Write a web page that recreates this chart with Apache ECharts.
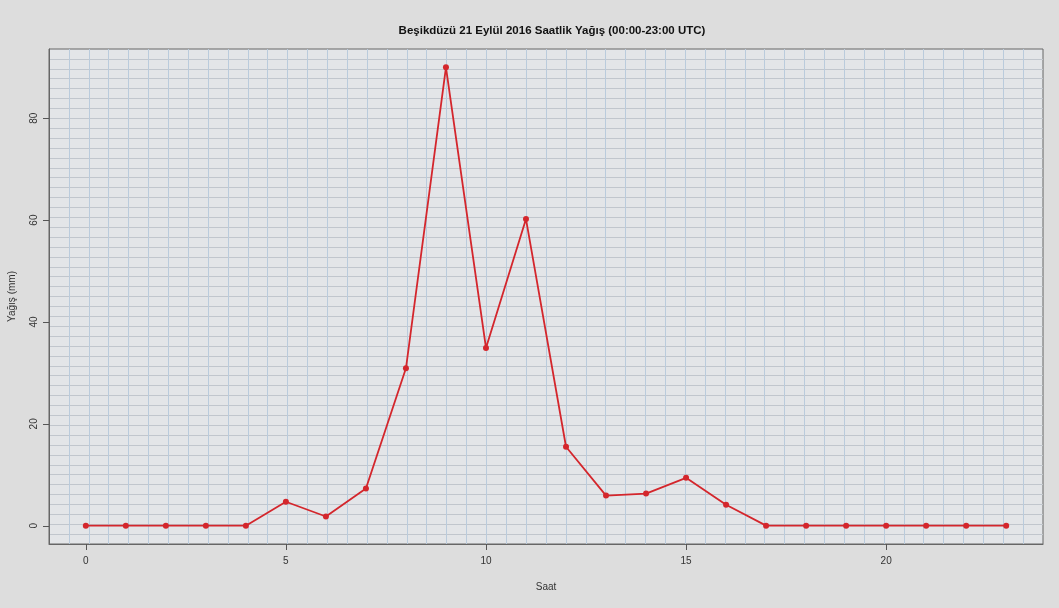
<!DOCTYPE html>
<html>
<head>
<meta charset="utf-8">
<script src="https://cdn.jsdelivr.net/npm/echarts@6/dist/echarts.min.js"></script>
<style>
html,body{margin:0;padding:0;background:#dddddd;}
#c{width:1059px;height:608px;}
</style>
</head>
<body>
<div id="c"></div>
<script>
const hours = [0,1,2,3,4,5,6,7,8,9,10,11,12,13,14,15,16,17,18,19,20,21,22,23];
const rain = [0,0,0,0,0,4.7,1.8,7.3,30.9,90,34.9,60.2,15.5,5.9,6.3,9.4,4.1,0,0,0,0,0,0,0];
const xTicks = [0,5,10,15,20];
const yTicks = [0,20,40,60,80];
const titleText = 'Beşikdüzü 21 Eylül 2016 Saatlik Yağış (00:00-23:00 UTC)';
const xName = 'Saat';
const yName = 'Yağış (mm)';

const FONT = 'Liberation Sans, Arial, sans-serif';
const chart = echarts.init(document.getElementById('c'), null, {renderer:'canvas'});
const xMin = -0.92, xMax = 23.92, yMin = -3.6, yMax = 93.6;
const lineColor = '#d4262c';
const GRID_LEFT = 49;

chart.setOption({
  backgroundColor: '#dddddd',
  animation: false,
  title: {
    text: titleText,
    left: 547, top: 20, textAlign: 'center',
    textStyle: {fontFamily: FONT, fontSize: 11.5, fontWeight: 'bold', color: '#111'}
  },
  grid: {
    left: GRID_LEFT, top: 49, width: 994, height: 495,
    outerBoundsMode: 'none', containLabel: false,
    show: true, backgroundColor: '#e3e5e8', borderColor: '#666', borderWidth: 1
  },
  xAxis: [{
    type: 'value', min: xMin, max: xMax, position: 'bottom',
    name: xName, nameLocation: 'middle', nameGap: 38,
    nameTextStyle: {fontFamily: FONT, fontSize: 10, color: '#333'},
    axisLine: {show: true, onZero: false, lineStyle: {color: '#666', width: 1}},
    axisTick: {show: true, length: 6, customValues: xTicks, lineStyle: {color: '#555'}},
    axisLabel: {customValues: xTicks, margin: 12, fontFamily: FONT, fontSize: 10, color: '#333'},
    splitLine: {show: false}
  }, {
    type: 'value', min: 0, max: 50, interval: 1, position: 'top',
    axisLine: {show: false, onZero: false}, axisTick: {show: false}, axisLabel: {show: false},
    splitLine: {show: true, showMinLine: false, showMaxLine: false, lineStyle: {color: '#bacbdc', width: 1}}
  }],
  yAxis: [{
    type: 'value', min: yMin, max: yMax, position: 'left',
    name: yName, nameLocation: 'middle', nameGap: 32, nameRotate: 90,
    nameTextStyle: {fontFamily: FONT, fontSize: 10, color: '#333'},
    axisLine: {show: true, onZero: false, lineStyle: {color: '#666', width: 1}},
    axisTick: {show: false},
    axisLabel: {customValues: yTicks, rotate: 90, margin: 10, fontFamily: FONT, fontSize: 10, color: '#333'},
    splitLine: {show: false}
  }, {
    type: 'value', min: 0, max: 50, interval: 1, position: 'right',
    axisLine: {show: false, onZero: false}, axisTick: {show: false}, axisLabel: {show: false},
    splitLine: {show: true, showMinLine: false, showMaxLine: false, lineStyle: {color: '#c1c6cd', width: 1}}
  }],
  series: [{
    type: 'line',
    xAxisIndex: 0, yAxisIndex: 0,
    data: hours.map((h, i) => [h, rain[i]]),
    lineStyle: {color: lineColor, width: 1.8},
    itemStyle: {color: lineColor},
    symbol: 'circle', symbolSize: 6,
    z: 5
  }]
});

// y-axis tick marks placed through the library's y scale
const tickGraphics = yTicks.map(v => {
  const py = Math.round(chart.convertToPixel({yAxisIndex: 0}, v)) + 0.5;
  return {
    type: 'line', silent: true, z: 10,
    shape: {x1: GRID_LEFT - 6, y1: py, x2: GRID_LEFT, y2: py},
    style: {stroke: '#555', lineWidth: 1}
  };
});
chart.setOption({graphic: tickGraphics});
</script>
</body>
</html>
